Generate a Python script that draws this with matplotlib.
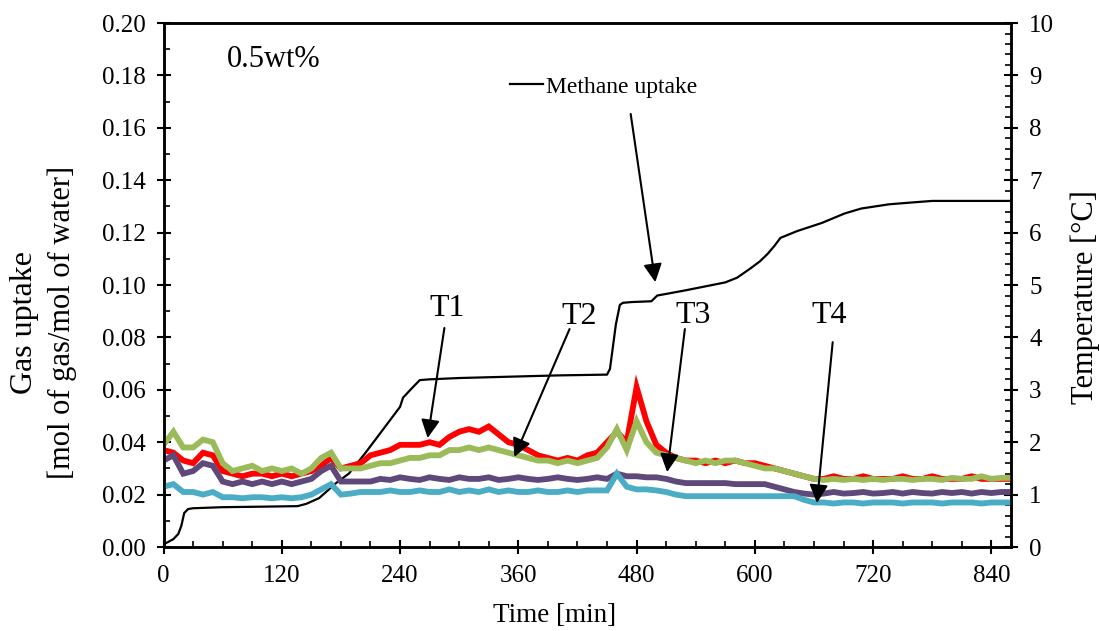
import numpy as np
import matplotlib
matplotlib.use('Agg')
import matplotlib.pyplot as plt
from matplotlib.ticker import MultipleLocator

plt.rcParams['font.family'] = ['Liberation Serif', 'DejaVu Serif']

# Methane uptake (mol gas / mol water) vs time (min)
methane_time = [0, 5, 10, 15, 18, 21, 25, 30, 60, 100, 136, 145, 158, 175, 188, 205, 215, 225,
                240, 243, 253, 260, 270, 300, 350, 400, 450, 453, 456, 459, 463, 466, 475, 495,
                501, 510, 530, 550, 570, 582, 595, 605, 613, 620, 626, 643, 668, 691, 708, 736,
                759, 780, 860]
methane_uptake = [0.001, 0.002, 0.003, 0.005, 0.008, 0.013, 0.0145, 0.0148, 0.0152, 0.0154, 0.0156,
                  0.0165, 0.0187, 0.0244, 0.028, 0.036, 0.041, 0.046, 0.0535, 0.057, 0.061, 0.0637,
                  0.064, 0.0645, 0.065, 0.0655, 0.0658, 0.068, 0.0765, 0.085, 0.0924, 0.0932, 0.0935,
                  0.0938, 0.096, 0.0966, 0.098, 0.0995, 0.101, 0.1028, 0.1062, 0.109, 0.1119, 0.115,
                  0.118, 0.1206, 0.1237, 0.1273, 0.1292, 0.1308, 0.1315, 0.1321, 0.1321]

# Temperatures (deg C), sampled every 10 min from 0 to 860
temp_time = np.arange(0, 861, 10)
T1 = [1.85, 1.80, 1.65, 1.60, 1.80, 1.75, 1.45, 1.40, 1.35, 1.40, 1.40, 1.35, 1.40, 1.35, 1.40,
      1.45, 1.55, 1.70, 1.50, 1.55, 1.60, 1.75, 1.80, 1.85, 1.95, 1.95, 1.95, 2.00, 1.95, 2.10,
      2.20, 2.25, 2.20, 2.30, 2.15, 2.00, 1.95, 1.85, 1.75, 1.70, 1.65, 1.70, 1.65, 1.75, 1.80,
      2.00, 2.20, 2.00, 3.05, 2.40, 1.95, 1.80, 1.70, 1.65, 1.65, 1.60, 1.65, 1.60, 1.65, 1.60,
      1.60, 1.55, 1.50, 1.45, 1.40, 1.35, 1.30, 1.30, 1.35, 1.30, 1.30, 1.35, 1.30, 1.30, 1.30,
      1.35, 1.30, 1.30, 1.35, 1.30, 1.30, 1.30, 1.35, 1.30, 1.30, 1.30, 1.30]
T2 = [1.95, 2.20, 1.90, 1.90, 2.05, 2.00, 1.60, 1.45, 1.50, 1.55, 1.45, 1.50, 1.45, 1.50, 1.40,
      1.50, 1.70, 1.80, 1.50, 1.50, 1.50, 1.55, 1.60, 1.60, 1.65, 1.70, 1.70, 1.75, 1.75, 1.85,
      1.85, 1.90, 1.85, 1.90, 1.85, 1.80, 1.75, 1.70, 1.65, 1.65, 1.60, 1.65, 1.60, 1.65, 1.70,
      1.90, 2.25, 1.85, 2.40, 2.00, 1.80, 1.75, 1.70, 1.65, 1.60, 1.65, 1.60, 1.65, 1.65, 1.60,
      1.55, 1.50, 1.50, 1.45, 1.40, 1.35, 1.30, 1.28, 1.30, 1.28, 1.30, 1.28, 1.30, 1.28, 1.30,
      1.30, 1.28, 1.30, 1.30, 1.28, 1.32, 1.30, 1.30, 1.35, 1.30, 1.32, 1.32]
T3 = [1.65, 1.75, 1.40, 1.45, 1.60, 1.55, 1.25, 1.20, 1.25, 1.20, 1.25, 1.20, 1.25, 1.20, 1.25,
      1.30, 1.45, 1.55, 1.25, 1.25, 1.25, 1.25, 1.30, 1.28, 1.33, 1.30, 1.28, 1.33, 1.30, 1.28,
      1.33, 1.30, 1.30, 1.33, 1.28, 1.30, 1.33, 1.30, 1.28, 1.30, 1.33, 1.30, 1.28, 1.30, 1.33,
      1.30, 1.40, 1.35, 1.35, 1.33, 1.33, 1.30, 1.25, 1.22, 1.22, 1.22, 1.22, 1.22, 1.20, 1.20,
      1.20, 1.20, 1.15, 1.10, 1.05, 1.02, 1.00, 1.02, 1.05, 1.02, 1.03, 1.05, 1.02, 1.03, 1.05,
      1.02, 1.05, 1.03, 1.02, 1.05, 1.03, 1.05, 1.02, 1.05, 1.03, 1.05, 1.05]
T4 = [1.15, 1.20, 1.05, 1.05, 1.00, 1.05, 0.95, 0.95, 0.93, 0.95, 0.95, 0.93, 0.95, 0.93, 0.95,
      1.00, 1.10, 1.20, 1.00, 1.02, 1.05, 1.05, 1.05, 1.08, 1.05, 1.05, 1.08, 1.05, 1.05, 1.10,
      1.05, 1.08, 1.05, 1.10, 1.05, 1.08, 1.05, 1.05, 1.08, 1.05, 1.05, 1.08, 1.05, 1.08, 1.08,
      1.08, 1.40, 1.15, 1.10, 1.10, 1.08, 1.05, 1.00, 0.97, 0.97, 0.97, 0.97, 0.97, 0.97, 0.97,
      0.97, 0.97, 0.97, 0.97, 0.97, 0.90, 0.85, 0.85, 0.83, 0.85, 0.85, 0.83, 0.85, 0.85, 0.85,
      0.83, 0.85, 0.85, 0.85, 0.83, 0.85, 0.85, 0.85, 0.83, 0.85, 0.85, 0.85]

temp_series = [('T1', T1, '#FF0000'), ('T2', T2, '#9BBB59'),
               ('T3', T3, '#5F497A'), ('T4', T4, '#4BACC6')]

fig = plt.figure(figsize=(10.99, 6.31), dpi=100)
ax = fig.add_axes([0.1488, 0.1331, 0.7712, 0.8304])
ax2 = ax.twinx()

line, = ax.plot(methane_time, methane_uptake, color='black', lw=1.6)
for name, vals, col in temp_series:
    ax2.plot(temp_time, vals, color=col, lw=4.2, solid_joinstyle='miter')

ax.set_xlim(0, 860)
ax.set_ylim(0, 0.20)
ax2.set_ylim(0, 10)

ax.xaxis.set_major_locator(MultipleLocator(120))
ax.xaxis.set_minor_locator(MultipleLocator(30))
ax.yaxis.set_major_locator(MultipleLocator(0.02))
ax.yaxis.set_minor_locator(MultipleLocator(0.01))
ax2.yaxis.set_major_locator(MultipleLocator(1))
ax2.yaxis.set_minor_locator(MultipleLocator(0.2))
ax.yaxis.set_major_formatter(plt.FormatStrFormatter('%.2f'))

for a in (ax, ax2):
    a.tick_params(which='major', direction='inout', length=10, width=1.5, labelsize=18, pad=8)
    a.tick_params(which='minor', direction='in', length=4, width=1.2)
    for sp in a.spines.values():
        sp.set_linewidth(1.8)
ax.tick_params(axis='x', which='both', top=False)
ax.tick_params(axis='y', which='both', right=False)

ax.set_xlabel('Time [min]', fontsize=19.5)
ax.xaxis.set_label_coords(0.4608, -0.107)
ax.text(-0.1646, 0.429, 'Gas uptake', transform=ax.transAxes, rotation=90,
        fontsize=23, ha='center', va='center')
ax.text(-0.1198, 0.429, '[mol of gas/mol of water]', transform=ax.transAxes, rotation=90,
        fontsize=22, ha='center', va='center')
ax.text(1.087, 0.477, 'Temperature [\u00b0C]', transform=ax.transAxes, rotation=90,
        fontsize=22, ha='center', va='center')

ax.text(64, 0.186, '0.5wt%', fontsize=22, va='center', ha='left')

ax.legend(handles=[line], labels=['Methane uptake'], loc='center left',
          bbox_to_anchor=(0.409, 0.878), frameon=False, fontsize=17,
          handlelength=1.4, handletextpad=0.1, borderpad=0, borderaxespad=0)

arrow = dict(arrowstyle='-|>,head_length=0.55,head_width=0.28', color='black', lw=1.5,
             mutation_scale=20, shrinkA=0, shrinkB=0)
ax2.annotate('', xy=(499, 0.1011), xytext=(474, 0.1653), xycoords=ax.transData,
             textcoords=ax.transData, arrowprops=arrow)

labels = [('T1', (288, 0.0912), (285, 0.0836), (268, 0.0416)),
          ('T2', (422, 0.0878), (412, 0.0832), (356, 0.0344)),
          ('T3', (537, 0.0882), (529, 0.0832), (511, 0.0286)),
          ('T4', (675, 0.0882), (679, 0.0782), (663, 0.0168))]
for name, txt, tail, tip in labels:
    ax2.text(txt[0], txt[1], name, transform=ax.transData, fontsize=23,
             ha='center', va='center')
    ax2.annotate('', xy=tip, xytext=tail, xycoords=ax.transData,
                 textcoords=ax.transData, arrowprops=arrow)

plt.savefig('out.png', dpi=100)
